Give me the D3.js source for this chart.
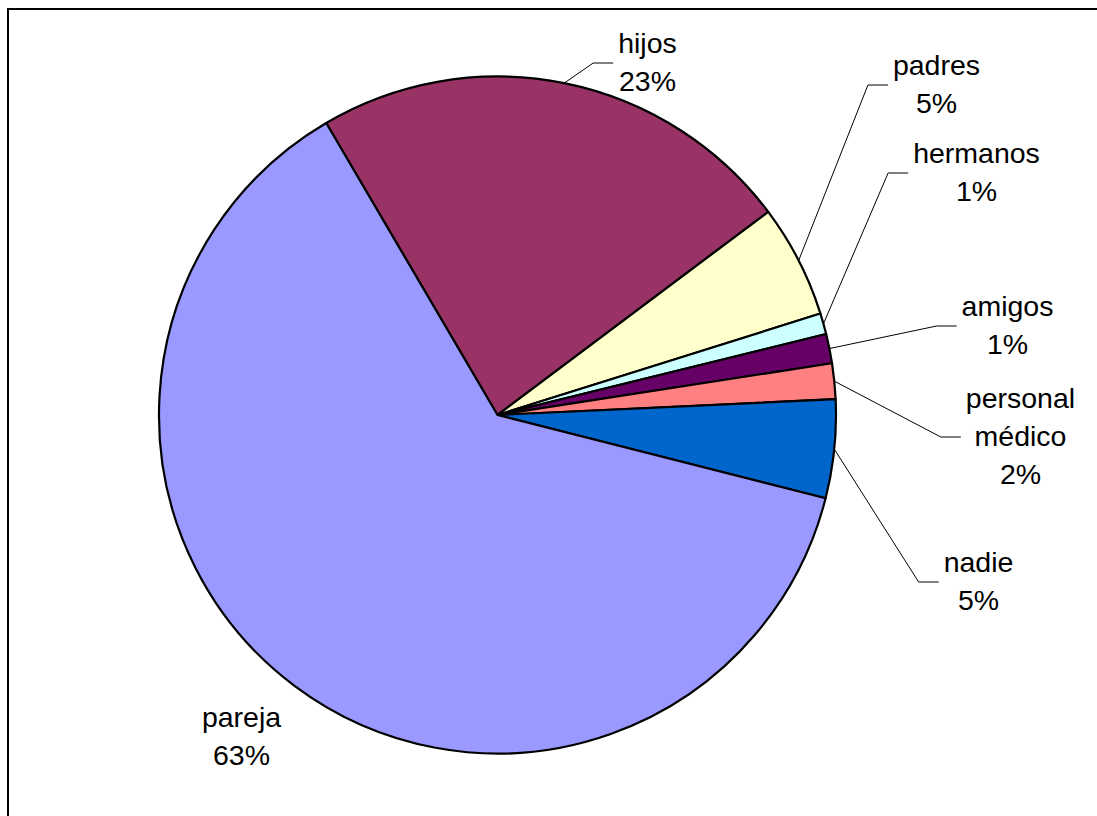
<!DOCTYPE html>
<html>
<head>
<meta charset="utf-8">
<script src="https://cdn.jsdelivr.net/npm/d3@7"></script>
<style>
  body { margin: 0; background: #fff; }
  svg { display: block; }
</style>
</head>
<body>
<svg id="chart"></svg>
<script>
// data, clockwise from the top-left boundary
const categories = ['hijos', 'padres', 'hermanos', 'amigos', 'personal médico', 'nadie', 'pareja'];
const values = [23.2, 5.4, 1.0, 1.4, 1.7, 4.7, 62.6];
const colors = ['#993366', '#FFFFCC', '#CCFFFF', '#660066', '#FF8080', '#0066CC', '#9999FF'];

// label block placement relative to the pie centre (centre x, first baseline y)
const labelOffsets = [
    [150, -362], [439, -340], [479, -252], [510, -99], [523, -7], [481, 157], [-256, 312]
];
const hasLeader = [true, true, true, true, true, true, false];

const width = 1097, height = 816;
const cx = 497.5, cy = 415, radius = 338.5;
const fontSize = 28.5, lineGap = 38;

const svg = d3.select('#chart')
    .attr('width', width)
    .attr('height', height);

svg.append('rect')
    .attr('x', 8).attr('y', 9)
    .attr('width', width + 10).attr('height', height + 10)
    .attr('fill', 'none')
    .attr('stroke', '#000')
    .attr('stroke-width', 2);

const total = d3.sum(values);
const startA = -30.4 * Math.PI / 180;

const pie = d3.pie()
    .sort(null)
    .startAngle(startA)
    .endAngle(startA + 2 * Math.PI)
    .value(d => d.value);

const data = categories.map((c, i) => ({
    name: c, value: values[i], color: colors[i],
    off: labelOffsets[i], leader: hasLeader[i]
}));
const arcs = pie(data);

const arc = d3.arc().innerRadius(0).outerRadius(radius);
const edge = d3.arc().innerRadius(radius).outerRadius(radius);

const g = svg.append('g').attr('transform', `translate(${cx}, ${cy})`);

g.selectAll('path.slice')
    .data(arcs)
    .join('path')
    .attr('class', 'slice')
    .attr('d', arc)
    .attr('fill', d => d.data.color)
    .attr('stroke', '#000')
    .attr('stroke-width', 2.2)
    .attr('stroke-linejoin', 'round');

// labels
arcs.forEach(d => {
    const lines = d.data.name.split(' ');
    lines.push(Math.round(d.data.value / total * 100) + '%');
    const [lx, ly] = d.data.off;

    const text = g.append('text')
        .attr('text-anchor', 'middle')
        .style('font-family', '"Liberation Sans", Arial, sans-serif')
        .style('font-size', fontSize + 'px')
        .attr('fill', '#000');
    lines.forEach((t, k) => {
        text.append('tspan')
            .attr('x', lx)
            .attr('y', ly + k * lineGap)
            .text(t);
    });

    if (!d.data.leader) return;
    const w = d3.max(text.selectAll('tspan').nodes(), n => n.getComputedTextLength());
    const left = lx - w / 2 - 5;
    const midY = ly + (lines.length - 1) * lineGap / 2 - 9;
    const p0 = edge.centroid(d);
    g.append('polyline')
        .attr('points', [p0, [left - 20, midY], [left, midY]].map(p => p.join(',')).join(' '))
        .attr('fill', 'none')
        .attr('stroke', '#000')
        .attr('stroke-width', 1);
});
</script>
</body>
</html>
